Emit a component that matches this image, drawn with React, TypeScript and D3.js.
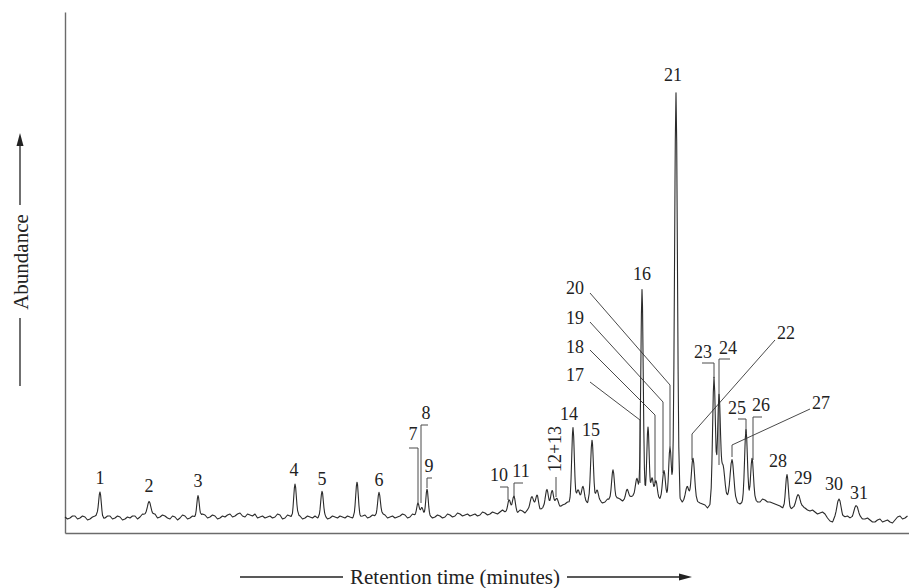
import React, { useEffect, useRef } from 'react';
import * as d3 from 'd3';

const W = 909;
const H = 588;

// Retention time grid step (minutes) for the hand-read baseline
const baseStep = 0.25;
// Baseline (abundance, arbitrary units) read every 0.25 min
const baseline = [
  16, 15, 17, 15, 16, 14, 17, 16, 15, 17,
  15, 16, 14, 15, 17, 16, 18, 17, 19, 16,
  17, 14, 16, 15, 17, 15, 16, 17, 18, 16,
  17, 15, 16, 19, 17, 20, 16, 18, 19, 16,
  15, 17, 16, 18, 15, 17, 16, 17, 15, 16,
  17, 16, 17, 15, 16, 17, 15, 16, 17, 16,
  18, 16, 17, 16, 18, 16, 15, 17, 18, 16,
  18, 19, 18, 17, 16, 17, 16, 18, 17, 19,
  18, 17, 19, 18, 20, 19, 20, 21, 21, 22,
  21, 23, 20, 24, 25, 23, 27, 26, 28, 26,
  29, 30, 31, 33, 31, 32, 30, 32, 31, 33,
  32, 34, 33, 36, 38, 35, 36, 33, 35, 34,
  36, 35, 34, 30, 33, 35, 32, 30, 28, 27,
  30, 33, 38, 35, 32, 29, 31, 32, 33, 31,
  33, 31, 29, 27, 24, 23, 24, 24, 25, 22,
  21, 20, 19, 12, 15, 17, 16, 15, 17, 16,
  14, 13, 11, 14, 12, 11, 13, 17, 15, 16,
];
// Baseline read half-way between the samples above (noise detail)
const baselineMid = [
  14, 17, 14, 17, 13, 16, 18, 14, 17, 14,
  17, 13, 16, 17, 14, 19, 16, 18, 15, 18,
  15, 17, 13, 18, 14, 17, 15, 19, 15, 18,
  14, 17, 18, 16, 19, 17, 19, 17, 15, 17,
  16, 15, 19, 14, 18, 15, 18, 14, 17, 15,
  15, 18, 14, 17, 15, 16, 17, 15, 18, 17,
  15, 18, 15, 19, 15, 17, 16, 19, 15, 19,
  20, 17, 19, 15, 18, 15, 19, 16, 20, 17,
  19, 18, 17, 21, 18, 21, 19, 23, 20, 23,
  20, 22, 23, 22, 26, 25, 24, 29, 25, 28,
  31, 29, 32, 33, 30, 33, 31, 30, 34, 31,
  35, 32, 35, 37, 35, 38, 34, 35, 33, 37,
  34, 36, 32, 31, 36, 33, 31, 29, 25, 29,
  31, 36, 36, 33, 30, 30, 32, 34, 31, 34,
  31, 30, 28, 25, 22, 25, 22, 26, 23, 23,
  19, 21, 15, 11, 17, 15, 17, 15, 18, 14,
  15, 11, 13, 11, 13, 10, 16, 14, 17,
];

// Peaks: retention time, height above baseline, width (sigma, min)
const peakRT = [1.75, 4.2, 6.65, 11.5, 12.85, 14.6, 15.7, 17.65, 17.85, 18.1, 22.2, 22.45, 23.35, 23.6, 24.1, 24.35, 24.6, 25.4, 25.65, 25.9, 26.35, 26.6, 27.4, 28.1, 28.6, 28.85, 29.15, 29.35, 29.55, 29.95, 30.25, 30.55, 31.1, 31.4, 32.45, 32.7, 32.9, 33.35, 34.05, 34.35, 36.1, 36.65, 38.7, 39.55];
const peakHeight = [25, 15, 22, 33, 24, 33, 25, 10, 8, 25, 12, 15, 14, 12, 19, 14, 9, 76, 11, 14, 60, 12, 32, 9, 19, 206, 72, 20, 18, 26, 51, 407, 11, 42, 126, 105, 30, 40, 72, 41, 36, 16, 17, 10];
const peakWidth = [0.065, 0.09, 0.06, 0.065, 0.065, 0.065, 0.07, 0.06, 0.06, 0.06, 0.07, 0.07, 0.08, 0.07, 0.07, 0.07, 0.07, 0.065, 0.07, 0.07, 0.07, 0.07, 0.07, 0.07, 0.07, 0.06, 0.06, 0.06, 0.07, 0.07, 0.065, 0.07, 0.08, 0.08, 0.07, 0.07, 0.08, 0.09, 0.07, 0.07, 0.07, 0.1, 0.1, 0.1];

// Peak labels (text) and their anchor in data units
const labelText = ['1', '2', '3', '4', '5', '6', '7', '8', '9', '10', '11', '14', '15', '16', '17', '18', '19', '20', '21', '22', '23', '24', '25', '26', '27', '28', '29', '30', '31'];
const labelT = [1.75, 4.2, 6.65, 11.45, 12.85, 15.7, 17.4, 18.05, 18.2, 21.7, 22.8, 25.2, 26.3, 28.85, 25.5, 25.5, 25.5, 25.5, 30.4, 36.05, 31.9, 33.15, 33.6, 34.8, 37.8, 35.65, 36.9, 38.45, 39.7];
const labelV = [55, 47, 52, 63, 54, 53, 99, 120, 67, 58, 62, 119, 103, 259, 158, 186, 215, 245, 458, 200, 181, 185, 125, 128, 130, 72, 55, 49, 40];

// Rotated label for the co-eluting pair
const pairLabel = '12+13';
const pairT = 24.5;
const pairV = 84;

// Leader lines (data units)
const leaders: [number, number][][] = [
  [[17.2, 85], [17.65, 85], [17.65, 30]],
  [[18.15, 108], [17.8, 108], [17.8, 30]],
  [[18.35, 55], [18.1, 55], [18.1, 45]],
  [[21.75, 46], [22.15, 46], [22.15, 33]],
  [[22.9, 50], [22.45, 50], [22.45, 36]],
  [[24.55, 56], [24.55, 36]],
  [[26.25, 151], [28.75, 113], [28.75, 50]],
  [[26.25, 183], [29.5, 118], [29.5, 50]],
  [[26.25, 211], [29.9, 131], [29.9, 60]],
  [[26.25, 240], [30.25, 148], [30.25, 86]],
  [[35.5, 193], [31.35, 99], [31.35, 73]],
  [[31.85, 170], [32.45, 170], [32.45, 155]],
  [[33.25, 174], [32.7, 174], [32.7, 68]],
  [[33.65, 114], [34.05, 114], [34.05, 100]],
  [[34.85, 116], [34.4, 116], [34.4, 73]],
  [[37.25, 124], [33.35, 88], [33.35, 76]],
];

const xTitle = 'Retention time (minutes)';
const yTitle = 'Abundance';

const FONT = "'Liberation Serif', 'Times New Roman', serif";

const x = d3.scaleLinear().domain([0, 42.2]).range([65, 909]);
const y = d3.scaleLinear().domain([0, 521]).range([533, 12]);

// Interleave the two hand-read baseline lists on a half-step grid
const fineStep = baseStep / 2;
const fineBase: number[] = [];
baseline.forEach((v, i) => {
  fineBase.push(v);
  if (i < baselineMid.length) fineBase.push(baselineMid[i]);
});

function baseAt(t: number): number {
  const f = t / fineStep;
  const i = Math.max(0, Math.min(fineBase.length - 2, Math.floor(f)));
  const r = Math.max(0, Math.min(1, f - i));
  return fineBase[i] * (1 - r) + fineBase[i + 1] * r;
}

function buildTrace(): [number, number][] {
  const ts = new Set<number>();
  fineBase.forEach((_, i) => ts.add(+(i * fineStep).toFixed(4)));
  const ks = [-3, -2, -1.5, -1, -0.5, 0, 0.5, 1, 1.5, 2, 3];
  peakRT.forEach((c, j) => ks.forEach((k) => ts.add(+(c + k * peakWidth[j]).toFixed(4))));
  const sorted = Array.from(ts).filter((t) => t >= 0 && t <= 42.2).sort((a, b) => a - b);
  return sorted.map((t) => {
    let v = baseAt(t);
    peakRT.forEach((c, j) => {
      const d = (t - c) / peakWidth[j];
      if (Math.abs(d) < 5) v += peakHeight[j] * Math.exp(-0.5 * d * d);
    });
    return [t, v];
  });
}

export default function App() {
  const xAxisRef = useRef<SVGGElement>(null);
  const yAxisRef = useRef<SVGGElement>(null);

  useEffect(() => {
    if (xAxisRef.current) {
      const g = d3.select(xAxisRef.current);
      g.call(d3.axisBottom(x).tickValues([]).tickSizeOuter(0));
      g.select('.domain').attr('stroke', '#6b6b6b').attr('stroke-width', 1.4);
    }
    if (yAxisRef.current) {
      const g = d3.select(yAxisRef.current);
      g.call(d3.axisLeft(y).tickValues([]).tickSizeOuter(0));
      g.select('.domain').attr('stroke', '#6b6b6b').attr('stroke-width', 1.4);
    }
  }, []);

  const trace = buildTrace();
  const line = d3
    .line<[number, number]>()
    .x((d) => x(d[0]))
    .y((d) => y(d[1]));

  const labelSize = 18;

  return (
    <svg
      width={W}
      height={H}
      style={{ position: 'absolute', left: 0, top: 0, background: '#fff' }}
      fontFamily={FONT}
    >
      <rect width={W} height={H} fill="#fff" />
      <g ref={yAxisRef} transform={`translate(${x(0)},0)`} />
      <g ref={xAxisRef} transform={`translate(0,${y(0)})`} />

      {leaders.map((pts, i) => (
        <path key={i} d={line(pts) || ''} fill="none" stroke="#4a4a4a" strokeWidth={1} />
      ))}

      <path d={line(trace) || ''} fill="none" stroke="#2a2a2a" strokeWidth={1.1} strokeLinejoin="round" />

      {labelText.map((t, i) => (
        <text
          key={t}
          x={x(labelT[i])}
          y={y(labelV[i]) + labelSize * 0.34}
          fontSize={labelSize}
          textAnchor="middle"
          fill="#222"
        >
          {t}
        </text>
      ))}
      <text
        transform={`translate(${x(pairT) + labelSize * 0.34},${y(pairV)}) rotate(-90)`}
        fontSize={labelSize}
        textAnchor="middle"
        fill="#222"
      >
        {pairLabel}
      </text>

      {/* Y title with arrow */}
      <text
        transform={`translate(27.5,262) rotate(-90)`}
        fontSize={21}
        textAnchor="middle"
        fill="#222"
      >
        {yTitle}
      </text>
      <line x1={20} y1={386} x2={20} y2={318} stroke="#222" strokeWidth={1.3} />
      <line x1={20} y1={205} x2={20} y2={142} stroke="#222" strokeWidth={1.3} />
      <polygon points="20,133 16.5,146 23.5,146" fill="#222" />

      {/* X title with arrow */}
      <text x={455} y={584} fontSize={21} textAnchor="middle" fill="#222">
        {xTitle}
      </text>
      <line x1={240} y1={577} x2={343} y2={577} stroke="#222" strokeWidth={1.3} />
      <line x1={567} y1={577} x2={682} y2={577} stroke="#222" strokeWidth={1.3} />
      <polygon points="692,577 679,573.5 679,580.5" fill="#222" />
    </svg>
  );
}
